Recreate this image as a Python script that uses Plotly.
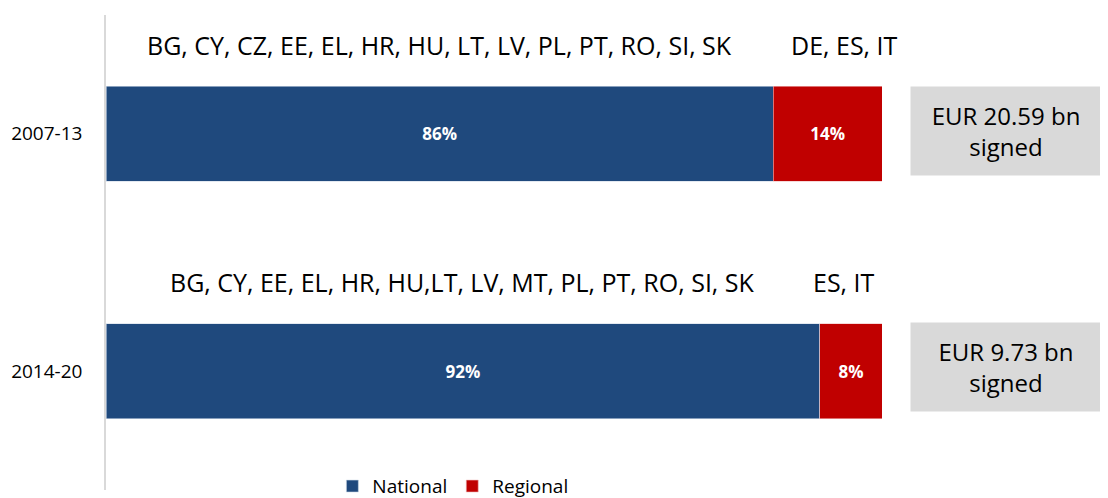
import plotly.graph_objects as go

periods = ["2007-13", "2014-20"]
national = [86, 92]
regional = [14, 8]
national_countries = ["BG, CY, CZ, EE, EL, HR, HU, LT, LV, PL, PT, RO, SI, SK",
                      "BG, CY, EE, EL, HR, HU,LT, LV, MT, PL, PT, RO, SI, SK"]
regional_countries = ["DE, ES, IT", "ES, IT"]
signed_totals = ["EUR 20.59 bn", "EUR 9.73 bn"]

FONT = "Open Sans"
BLUE = "#1F497D"
RED = "#C00000"

ypos = list(range(len(periods)))
regional_label_x = [95.2, 95.1]
box_shift = [3, 4.5]

fig = go.Figure()
fig.add_trace(go.Bar(
    y=ypos, x=national, orientation="h", name="National",
    marker=dict(color=BLUE, line=dict(color="#d0dbe8", width=0.6)),
    text=[f"{v}%" for v in national], textposition="inside", insidetextanchor="middle",
    textfont=dict(color="white", size=17, family=FONT, weight="bold"),
    width=0.4,
))
fig.add_trace(go.Bar(
    y=ypos, x=regional, orientation="h", name="Regional",
    marker=dict(color=RED, line=dict(color="#f0c0c0", width=0.6)),
    text=[f"{v}%" for v in regional], textposition="inside", insidetextanchor="middle",
    textfont=dict(color="white", size=17, family=FONT, weight="bold"),
    width=0.4,
))

annotations = []
for i in ypos:
    annotations.append(dict(
        x=national[i] / 2, y=i - 0.375, xref="x", yref="y",
        text=national_countries[i], showarrow=False,
        font=dict(size=25, family=FONT, color="black"),
    ))
    annotations.append(dict(
        x=regional_label_x[i], y=i - 0.375, xref="x", yref="y",
        text=regional_countries[i], showarrow=False,
        font=dict(size=25, family=FONT, color="black"),
    ))
    annotations.append(dict(
        x=1.036, xref="paper", xanchor="left", y=i, yref="y", yanchor="middle",
        yshift=box_shift[i],
        text=f"{signed_totals[i]}<br>signed", showarrow=False,
        width=190, height=88, bgcolor="#D9D9D9", borderpad=0,
        font=dict(size=24, family=FONT, color="black"),
    ))

fig.update_layout(
    width=1100, height=490,
    margin=dict(l=98, r=226, t=7, b=8, autoexpand=False),
    paper_bgcolor="white", plot_bgcolor="white",
    barmode="stack", showlegend=True,
    legend=dict(orientation="h", x=0.447, xanchor="center", y=0.008, yanchor="middle",
                traceorder="normal",
                font=dict(size=19, family=FONT, color="black"), itemwidth=30,
                bgcolor="rgba(0,0,0,0)"),
    xaxis=dict(range=[0, 100], visible=False, fixedrange=True),
    yaxis=dict(range=[1.5, -0.5], tickvals=ypos, ticktext=periods,
               showline=True, linecolor="#D9D9D9", linewidth=1.5,
               showgrid=False, zeroline=False, ticks="", ticklabelstandoff=18,
               tickfont=dict(size=19, family=FONT, color="black")),
    annotations=annotations,
)

fig.write_html("out.html")
